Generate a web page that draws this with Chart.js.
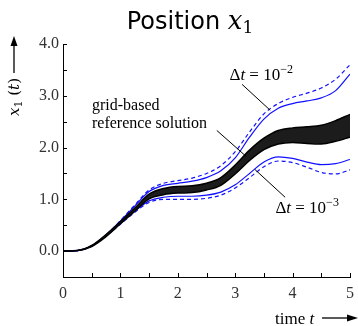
<!DOCTYPE html>
<html>
<head>
<meta charset="utf-8">
<script src="https://cdn.jsdelivr.net/npm/chart.js@4.4.0/dist/chart.umd.min.js"></script>
<style>
  body { margin: 0; background: #fff; }
  #wrap { width: 358px; height: 326px; }
</style>
</head>
<body>
<div id="wrap"><canvas id="myChart" width="358" height="326"></canvas></div>
<script>
// time samples
var times = [0, 0.25, 0.5, 0.75, 1, 1.25, 1.5, 1.75, 2, 2.25, 2.5, 2.75, 3, 3.25, 3.5, 3.75, 4, 4.25, 4.5, 4.75, 5];

// grid-based reference solution (upper / lower edge of the band)
var refHigh = [0, 0.01, 0.11, 0.32, 0.57, 0.83, 1.10, 1.21, 1.25, 1.26, 1.31, 1.42, 1.66, 1.95, 2.18, 2.33, 2.38, 2.40, 2.43, 2.52, 2.64];
var refLow  = [0, 0.01, 0.09, 0.28, 0.53, 0.77, 1.01, 1.09, 1.12, 1.13, 1.18, 1.27, 1.49, 1.75, 1.96, 2.07, 2.10, 2.08, 2.07, 2.12, 2.20];

// dt = 1e-2
var dt2Solid  = [0, 0.01, 0.1, 0.31, 0.58, 0.87, 1.15, 1.27, 1.31, 1.35, 1.42, 1.55, 1.80, 2.20, 2.55, 2.76, 2.85, 2.90, 2.96, 3.10, 3.42];
var dt2Dashed = [0, 0.01, 0.1, 0.31, 0.59, 0.89, 1.18, 1.31, 1.36, 1.41, 1.50, 1.65, 1.92, 2.30, 2.65, 2.85, 2.97, 3.05, 3.15, 3.32, 3.60];
// dt = 1e-3
var dt3Solid  = [0, 0.01, 0.1, 0.29, 0.53, 0.77, 0.97, 1.04, 1.06, 1.06, 1.08, 1.14, 1.28, 1.50, 1.72, 1.82, 1.79, 1.72, 1.67, 1.69, 1.77];
var dt3Dashed = [0, 0.01, 0.1, 0.29, 0.52, 0.75, 0.94, 1.00, 1.00, 1.00, 1.02, 1.08, 1.22, 1.42, 1.63, 1.74, 1.71, 1.62, 1.52, 1.49, 1.57];

// tick labels
var xTickValues = [0, 1, 2, 3, 4, 5];
var xTickLabels = ['0', '1', '2', '3', '4', '5'];
var yTickValues = [0, 1, 2, 3, 4];
var yTickLabels = ['0.0', '1.0', '2.0', '3.0', '4.0'];

function pts(arr) {
  return times.map(function(t, i) { return { x: t, y: arr[i] }; });
}

var SERIF = '"Liberation Serif", serif';
var BLUE = '#1010ff';

function drawRuns(ctx, x, y, runs) {
  runs.forEach(function(r) {
    ctx.font = r.font;
    ctx.fillText(r.text, x, y + (r.dy || 0));
    x += ctx.measureText(r.text).width;
  });
}
function runsWidth(ctx, runs) {
  var w = 0;
  runs.forEach(function(r) { ctx.font = r.font; w += ctx.measureText(r.text).width; });
  return w;
}
function line(ctx, x1, y1, x2, y2) {
  ctx.beginPath(); ctx.moveTo(x1, y1); ctx.lineTo(x2, y2); ctx.stroke();
}

var decor = {
  id: 'decor',
  afterDraw: function(chart) {
    var ctx = chart.ctx, xs = chart.scales.x, ys = chart.scales.y, area = chart.chartArea;
    function px(v) { return xs.getPixelForValue(v); }
    function py(v) { return ys.getPixelForValue(v); }
    ctx.save();
    ctx.strokeStyle = '#000';
    ctx.fillStyle = '#000';
    ctx.lineWidth = 1;

    // inward ticks
    xs.ticks.forEach(function(tk) {
      var x = Math.round(px(tk.value)) + 0.5;
      line(ctx, x, area.bottom, x, area.bottom - 4);
    });
    ys.ticks.forEach(function(tk) {
      if (tk.value < 0) return;
      var y = Math.round(py(tk.value)) + 0.5;
      line(ctx, area.left, y, area.left + 4, y);
    });

    // title
    ctx.textBaseline = 'alphabetic';
    var title = [
      { text: 'Position ', font: '24px "DejaVu Sans", sans-serif' },
      { text: 'x', font: 'italic 26px "DejaVu Serif", serif' },
      { text: '1', font: '17px "DejaVu Serif", serif', dy: 4 }
    ];
    drawRuns(ctx, 190 - runsWidth(ctx, title) / 2, 29, title);

    // y axis label, rotated, with arrow
    var ylab = [
      { text: 'x', font: 'italic 15px "DejaVu Serif", serif' },
      { text: '1', font: '11px "DejaVu Serif", serif', dy: 3 },
      { text: ' (', font: '15px "DejaVu Serif", serif' },
      { text: 't', font: 'italic 15px "DejaVu Serif", serif' },
      { text: ')', font: '15px "DejaVu Serif", serif' }
    ];
    ctx.save();
    ctx.translate(19, 97);
    ctx.rotate(-Math.PI / 2);
    drawRuns(ctx, -runsWidth(ctx, ylab) / 2, 0, ylab);
    ctx.restore();
    ctx.lineWidth = 1.3;
    line(ctx, 14, 73, 14, 44);
    ctx.beginPath(); ctx.moveTo(14, 36); ctx.lineTo(10.5, 46); ctx.lineTo(17.5, 46); ctx.closePath(); ctx.fill();

    // x axis label with arrow
    var xlab = [
      { text: 'time ', font: '17px ' + SERIF },
      { text: 't', font: 'italic 17px ' + SERIF }
    ];
    drawRuns(ctx, 275, 324, xlab);
    line(ctx, 322, 318, 348, 318);
    ctx.beginPath(); ctx.moveTo(358, 318); ctx.lineTo(347, 314.5); ctx.lineTo(347, 321.5); ctx.closePath(); ctx.fill();

    // annotations
    ctx.lineWidth = 1;
    var dt2 = [
      { text: '\u0394', font: '17px ' + SERIF },
      { text: 't', font: 'italic 17px ' + SERIF },
      { text: ' = 10', font: '17px ' + SERIF },
      { text: '\u22122', font: '12px ' + SERIF, dy: -7 }
    ];
    drawRuns(ctx, px(2.90), py(3.30), dt2);
    line(ctx, px(3.12), py(3.22), px(3.61), py(2.72));

    ctx.font = '16px ' + SERIF;
    ctx.fillText('grid-based', px(0.505), py(2.72));
    ctx.fillText('reference solution', px(0.505), py(2.37));
    line(ctx, px(2.68), py(2.33), px(3.19), py(1.83));

    var dt3 = [
      { text: '\u0394', font: '17px ' + SERIF },
      { text: 't', font: 'italic 17px ' + SERIF },
      { text: ' = 10', font: '17px ' + SERIF },
      { text: '\u22123', font: '12px ' + SERIF, dy: -7 }
    ];
    line(ctx, px(3.34), py(1.58), px(3.87), py(1.04));
    drawRuns(ctx, px(3.70), py(0.73), dt3);

    ctx.restore();
  }
};

var ctx = document.getElementById('myChart').getContext('2d');
var myChart = new Chart(ctx, {
  type: 'line',
  data: {
    datasets: [
      { label: 'reference high', data: pts(refHigh), borderColor: '#000', borderWidth: 1.5, fill: false },
      { label: 'reference low', data: pts(refLow), borderColor: '#000', borderWidth: 1.5, fill: '-1', backgroundColor: '#1c1c1c' },
      { label: 'dt 1e-2', data: pts(dt2Solid), borderColor: BLUE, borderWidth: 1.2, fill: false },
      { label: 'dt 1e-2 dashed', data: pts(dt2Dashed), borderColor: BLUE, borderWidth: 1.2, borderDash: [4, 3], fill: false },
      { label: 'dt 1e-3', data: pts(dt3Solid), borderColor: BLUE, borderWidth: 1.2, fill: false },
      { label: 'dt 1e-3 dashed', data: pts(dt3Dashed), borderColor: BLUE, borderWidth: 1.2, borderDash: [4, 3], fill: false }
    ]
  },
  options: {
    responsive: false,
    animation: false,
    layout: { padding: { top: 44, right: 8, left: 0, bottom: 0 } },
    elements: {
      point: { radius: 0 },
      line: { cubicInterpolationMode: 'monotone' }
    },
    plugins: {
      legend: { display: false },
      tooltip: { enabled: false },
      title: { display: false }
    },
    scales: {
      x: {
        type: 'linear',
        min: 0, max: 5,
        afterFit: function(scale) { scale.height = 49; scale.paddingRight = 0; scale.paddingLeft = 0; },
        grid: { display: true, drawOnChartArea: false, drawTicks: false },
        border: { display: true, color: '#000', width: 1 },
        ticks: {
          stepSize: 0.5, autoSkip: false, maxRotation: 0, padding: 7,
          color: '#333', font: { family: 'Liberation Serif', size: 16 },
          callback: function(v) { var i = xTickValues.indexOf(v); return i >= 0 ? xTickLabels[i] : ''; }
        }
      },
      y: {
        min: -0.5, max: 4,
        afterFit: function(scale) { scale.width = 63; scale.paddingTop = 0; scale.paddingBottom = 0; },
        grid: { display: true, drawOnChartArea: false, drawTicks: false },
        border: { display: true, color: '#000', width: 1 },
        ticks: {
          stepSize: 0.5, autoSkip: false, padding: 4,
          color: '#333', font: { family: 'Liberation Serif', size: 16 },
          callback: function(v) { var i = yTickValues.indexOf(v); return i >= 0 ? yTickLabels[i] : ''; }
        }
      }
    }
  },
  plugins: [decor]
});
</script>
</body>
</html>
